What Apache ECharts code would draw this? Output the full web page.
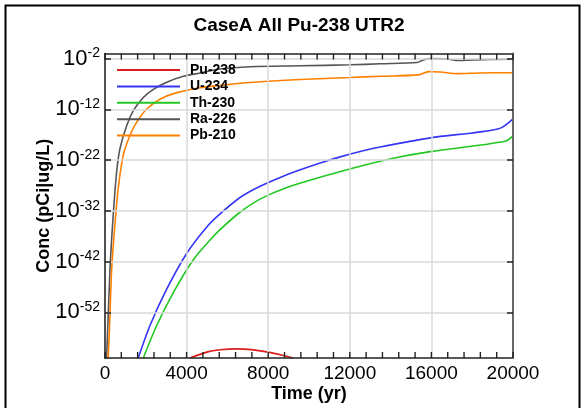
<!DOCTYPE html>
<html><head><meta charset="utf-8">
<script src="https://cdn.jsdelivr.net/npm/echarts@6/dist/echarts.min.js"></script>
<style>html,body{margin:0;padding:0;background:#fff}#c{width:587px;height:408px}</style>
</head><body><div id="c"></div>
<script>
// Values are log10 of concentration (pCi|ug/L); time in years
const seriesNames = ['Pu-238', 'U-234', 'Th-230', 'Ra-226', 'Pb-210'];
const seriesColors = ['#dd1c1c', '#3535f5', '#22c822', '#555555', '#ff8000'];
const yTickExponents = [-52, -42, -32, -22, -12, -2];
const xTickValues = [0, 800, 1600, 2400, 3200, 4000, 4800, 5600, 6400, 7200, 8000, 8800, 9600, 10400, 11200, 12000, 12800, 13600, 14400, 15200, 16000, 16800, 17600, 18400, 19200, 20000];
const yMin = -61, yMax = -1;

const pu238Time = [4170, 4990, 5640, 6460, 7280, 8010, 8750, 9240];
const pu238Log  = [-61.0, -59.84, -59.39, -59.2, -59.39, -59.84, -60.5, -61.0];

const u234Time = [1630, 2210, 3030, 4010, 4990, 5640, 6620, 7600, 8590, 9570, 10550, 11530, 12510, 13490, 15940, 19300, 20000];
const u234Log  = [-61.0, -54.55, -47.38, -40.35, -35.18, -32.61, -29.37, -27.17, -25.42, -23.92, -22.57, -21.37, -20.32, -19.42, -17.62, -15.82, -13.88];

const th230Time = [1880, 2540, 3350, 4330, 5150, 5640, 6620, 7600, 8910, 10710, 12510, 14130, 15940, 19620, 20000];
const th230Log  = [-61.0, -54.55, -48.1, -41.63, -37.76, -35.7, -32.28, -29.7, -27.4, -25.2, -23.2, -21.63, -20.33, -18.28, -17.23];

const ra226Time = [0, 83, 245, 407, 574, 736, 1065, 1388, 1879, 2370, 3027, 3841, 4661, 5642, 7114, 9567, 12020, 13490, 15290, 15600, 15940, 16760, 17320, 18060, 20000];
const ra226Log  = [-66, -60.36, -43.5, -32.61, -24.2, -19.69, -15.18, -12.27, -9.68, -8.07, -6.66, -5.49, -4.83, -4.06, -3.61, -3.42, -3.23, -3.03, -2.78, -2.26, -2.01, -2.07, -2.39, -2.26, -2.12];

const pb210Time = [0, 162, 327, 491, 652, 898, 1227, 1555, 2046, 2698, 3518, 4661, 5642, 7114, 9567, 12020, 13490, 15370, 15860, 16440, 17250, 18400, 20000];
const pb210Log  = [-66, -60.36, -43.5, -34.54, -27.44, -20.99, -17.11, -14.52, -11.94, -10.01, -8.71, -7.74, -7.29, -6.71, -6.13, -5.74, -5.49, -5.22, -4.58, -4.64, -4.97, -4.83, -4.78];

const times = [pu238Time, u234Time, th230Time, ra226Time, pb210Time];
const logs = [pu238Log, u234Log, th230Log, ra226Log, pb210Log];

const chart = echarts.init(document.getElementById('c'), null, {renderer: 'canvas'});
const FONT = '"Liberation Sans", Arial, sans-serif';
const gridLine = {show: true, lineStyle: {color: '#d8d8d8', width: 1.5}};

function yAxisDef(pos) {
  return {
    type: 'value', min: yMin, max: yMax, position: pos, gridIndex: 0, z: 10,
    axisLine: {show: true, onZero: false, lineStyle: {color: pos === 'right' ? '#666' : '#222', width: pos === 'right' ? 2 : 1.5}},
    axisTick: {show: true, inside: true, length: 6, customValues: yTickExponents, lineStyle: {color: '#222', width: 1.5}}
  };
}

const xBottom = {
  type: 'value', min: 0, max: 20000, interval: 4000, position: 'bottom', gridIndex: 0, z: 9,
  axisLine: {show: true, onZero: false, lineStyle: {color: '#222', width: 1.5}},
  axisTick: {show: false},
  name: 'Time (yr)', nameLocation: 'middle', nameGap: 27, nameMoveOverlap: false,
  nameTextStyle: {fontFamily: FONT, fontSize: 18, fontWeight: 'bold', color: '#000'},
  axisLabel: {show: true, margin: 6, fontFamily: FONT, fontSize: 19, color: '#000', formatter: v => String(v)},
  splitLine: gridLine
};
const xTop = {
  type: 'value', min: 0, max: 20000, interval: 4000, position: 'top', gridIndex: 0, z: 9,
  axisLine: {show: true, onZero: false, lineStyle: {color: '#222', width: 1.5}},
  axisTick: {show: false}, axisLabel: {show: false}, splitLine: {show: false}
};
const yLeft = Object.assign(yAxisDef('left'), {
  name: 'Conc (pCi|ug/L)', nameLocation: 'middle', nameGap: 52, nameRotate: 90, nameMoveOverlap: false,
  nameTextStyle: {fontFamily: FONT, fontSize: 18, fontWeight: 'bold', color: '#000'},
  axisLabel: {
    show: true, margin: 5, customValues: yTickExponents,
    formatter: v => '{a|10}{b|' + v + '}',
    rich: {
      a: {fontFamily: FONT, fontSize: 22, color: '#000', lineHeight: 24},
      b: {fontFamily: FONT, fontSize: 14, color: '#000', lineHeight: 24, verticalAlign: 'top'}
    }
  },
  splitLine: gridLine
});
const yRight = Object.assign(yAxisDef('right'), {axisLabel: {show: false}, splitLine: {show: false}});

const lineSeries = seriesNames.map((name, i) => ({
  name: name, type: 'line', xAxisIndex: 0, yAxisIndex: 0,
  data: times[i].map((t, j) => [t, logs[i][j]]),
  symbol: 'none', smooth: 0.3, clip: true,
  lineStyle: {color: seriesColors[i], width: 1.6},
  itemStyle: {color: seriesColors[i]}
}));

// Tick marks along the bottom and top frame, placed through the x scale as thin rect symbols
function tickMarks(yVal, offset) {
  return {
    type: 'scatter', xAxisIndex: 0, yAxisIndex: 0, silent: true, clip: false, z: 12,
    data: xTickValues.map(t => [t, yVal]),
    symbol: 'rect', symbolSize: [1.4, 6], symbolOffset: [0, offset],
    itemStyle: {color: '#222', opacity: 1},
    emphasis: {disabled: true}
  };
}

chart.setOption({
  animation: false,
  title: {
    text: 'CaseA All Pu-238 UTR2', left: 294, top: 11, textAlign: 'center',
    textStyle: {fontFamily: FONT, fontSize: 19, fontWeight: 'bold', color: '#000'}
  },
  graphic: [{
    type: 'rect', left: 3, top: 3, silent: true, z: -1,
    shape: {width: 574, height: 420},
    style: {fill: null, stroke: '#000', lineWidth: 2}
  }],
  grid: {left: 105, right: 74, top: 53.5, bottom: 44.7},
  legend: {
    orient: 'vertical', left: 117, top: 63, icon: 'rect', padding: 0,
    itemWidth: 63, itemHeight: 2, itemGap: 2.4,
    data: seriesNames,
    textStyle: {fontFamily: FONT, fontSize: 14, fontWeight: 'bold', color: '#000', lineHeight: 14, padding: [0, 0, 0, 5]}
  },
  xAxis: [xBottom, xTop],
  yAxis: [yLeft, yRight],
  series: lineSeries.concat([tickMarks(yMin, -3), tickMarks(yMax, 3)])
});
</script></body></html>
